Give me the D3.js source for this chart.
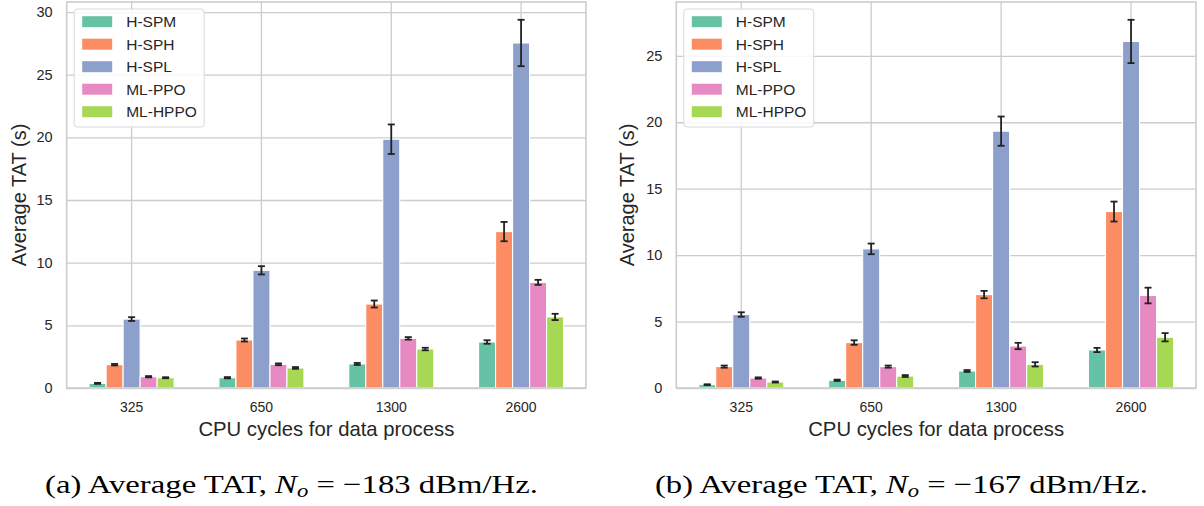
<!DOCTYPE html>
<html>
<head>
<meta charset="utf-8">
<script src="https://cdn.jsdelivr.net/npm/d3@7"></script>
<style>
  body { margin: 0; background: #fff; }
  svg { display: block; }
  text { font-family: "Liberation Sans", Arial, sans-serif; fill: #262626; }
  .caption { font-family: "Liberation Serif", "DejaVu Serif", serif; fill: #000; }
</style>
</head>
<body>
<div id="chart"></div>
<script>
// data
const categories = ["325", "650", "1300", "2600"];
const seriesNames = ["H-SPM", "H-SPH", "H-SPL", "ML-PPO", "ML-HPPO"];
const colors = ["#66c2a5", "#fc8d62", "#8da0cb", "#e78ac3", "#a6d854"];

// panel (a): No = -183 dBm/Hz
const tatA_HSPM = [0.37, 0.82, 1.92, 3.67];
const tatA_HSPH = [1.86, 3.83, 6.7, 12.48];
const tatA_HSPL = [5.5, 9.39, 19.85, 27.53];
const tatA_MLPPO = [0.9, 1.89, 3.96, 8.43];
const tatA_MLHPPO = [0.82, 1.6, 3.11, 5.67];
const errA_HSPM = [0.04, 0.05, 0.08, 0.14];
const errA_HSPH = [0.06, 0.12, 0.28, 0.77];
const errA_HSPL = [0.15, 0.33, 1.18, 1.85];
const errA_MLPPO = [0.05, 0.07, 0.1, 0.2];
const errA_MLHPPO = [0.04, 0.07, 0.1, 0.25];
const ticksA = [0, 5, 10, 15, 20, 25, 30];

// panel (b): No = -167 dBm/Hz
const tatB_HSPM = [0.25, 0.58, 1.28, 2.86];
const tatB_HSPH = [1.61, 3.42, 7.03, 13.28];
const tatB_HSPL = [5.53, 10.47, 19.33, 26.08];
const tatB_MLPPO = [0.75, 1.61, 3.16, 6.96];
const tatB_MLHPPO = [0.45, 0.9, 1.78, 3.82];
const errB_HSPM = [0.03, 0.05, 0.07, 0.16];
const errB_HSPH = [0.08, 0.17, 0.28, 0.75];
const errB_HSPL = [0.17, 0.4, 1.1, 1.63];
const errB_MLPPO = [0.05, 0.08, 0.24, 0.59];
const errB_MLHPPO = [0.04, 0.07, 0.16, 0.31];
const ticksB = [0, 5, 10, 15, 20, 25];

const W = 1204, H = 506;
const svg = d3.select("#chart").append("svg")
  .attr("width", W).attr("height", H)
  .attr("viewBox", `0 0 ${W} ${H}`);
svg.append("rect").attr("width", W).attr("height", H).attr("fill", "#fff");

function drawPanel(opts) {
  const { left, right, top, bottom, yMax, ticks, values, errors, yLabelX, caption } = opts;

  const xScale = d3.scaleBand().domain(categories).range([left, right]).padding(0);
  const groupW = xScale.bandwidth() * 0.655;
  const hueScale = d3.scaleBand().domain(seriesNames).range([-groupW / 2, groupW / 2]);
  const yScale = d3.scaleLinear().domain([0, yMax]).range([bottom, top]);

  const g = svg.append("g");

  // grid + ticks
  g.append("g")
    .attr("transform", `translate(${left},0)`)
    .call(d3.axisLeft(yScale).tickValues(ticks).tickSize(-(right - left)).tickFormat(d3.format("d")).tickPadding(14))
    .call((a) => a.select(".domain").remove())
    .call((a) => a.selectAll("line").attr("stroke", "#cccccc").attr("stroke-width", 1.3))
    .call((a) => a.selectAll("text").attr("font-size", "14.5px").attr("fill", "#262626"));

  g.append("g")
    .attr("transform", `translate(0,${bottom})`)
    .call(d3.axisBottom(xScale).tickSize(-(bottom - top)).tickPadding(14))
    .call((a) => a.select(".domain").remove())
    .call((a) => a.selectAll("line").attr("stroke", "#cccccc").attr("stroke-width", 1.3))
    .call((a) => a.selectAll("text").attr("font-size", "14px").attr("fill", "#262626"));

  // bars
  const rows = [];
  seriesNames.forEach((s, si) => {
    categories.forEach((c, ci) => {
      rows.push({ s, c, v: values[si][ci], e: errors[si][ci], color: colors[si] });
    });
  });

  g.append("g").selectAll("rect")
    .data(rows)
    .join("rect")
    .attr("x", (d) => xScale(d.c) + xScale.bandwidth() / 2 + hueScale(d.s))
    .attr("y", (d) => yScale(d.v))
    .attr("width", hueScale.bandwidth())
    .attr("height", (d) => yScale(0) - yScale(d.v))
    .attr("fill", (d) => d.color)
    .attr("stroke", "#fff")
    .attr("stroke-width", 1.1);

  // error bars
  const eb = g.append("g").selectAll("g")
    .data(rows)
    .join("g")
    .attr("transform", (d) => `translate(${xScale(d.c) + xScale.bandwidth() / 2 + hueScale(d.s) + hueScale.bandwidth() / 2},0)`)
    .attr("stroke", "#222")
    .attr("stroke-width", 1.8);
  eb.append("line")
    .attr("y1", (d) => yScale(d.v - d.e)).attr("y2", (d) => yScale(d.v + d.e));
  eb.append("line")
    .attr("x1", -3.5).attr("x2", 3.5)
    .attr("y1", (d) => yScale(d.v - d.e)).attr("y2", (d) => yScale(d.v - d.e));
  eb.append("line")
    .attr("x1", -3.5).attr("x2", 3.5)
    .attr("y1", (d) => yScale(d.v + d.e)).attr("y2", (d) => yScale(d.v + d.e));

  // frame
  g.append("rect")
    .attr("x", left).attr("y", top)
    .attr("width", right - left).attr("height", bottom - top)
    .attr("fill", "none").attr("stroke", "#cccccc").attr("stroke-width", 1.6);

  // axis labels
  g.append("text")
    .attr("x", (left + right) / 2).attr("y", 436)
    .attr("text-anchor", "middle").attr("font-size", "20.3px")
    .text("CPU cycles for data process");
  g.append("text")
    .attr("transform", `translate(${yLabelX},${(top + bottom) / 2}) rotate(-90)`)
    .attr("text-anchor", "middle").attr("font-size", "20px")
    .text("Average TAT (s)");

  // legend
  const lg = g.append("g").attr("transform", `translate(${left + 7.5},9)`);
  lg.append("rect")
    .attr("width", 130).attr("height", 118).attr("rx", 3)
    .attr("fill", "#fff").attr("fill-opacity", 0.85)
    .attr("stroke", "#d9d9d9").attr("stroke-width", 1);
  const item = lg.selectAll("g.item")
    .data(seriesNames)
    .join("g")
    .attr("class", "item")
    .attr("transform", (d, i) => `translate(0,${12.7 + i * 22.5})`);
  item.append("rect")
    .attr("x", 8).attr("y", -5.5).attr("width", 30).attr("height", 11)
    .attr("fill", (d, i) => colors[i]);
  item.append("text")
    .attr("x", 52).attr("y", 5.5)
    .attr("font-size", "15.5px")
    .text((d) => d);

  // caption
  const cap = svg.append("text")
    .attr("class", "caption")
    .attr("x", caption.x).attr("y", 493)
    .attr("font-size", "26px")
    .attr("textLength", 493).attr("lengthAdjust", "spacingAndGlyphs");
  cap.append("tspan").text(caption.pre);
  cap.append("tspan").attr("font-style", "italic").text("N");
  cap.append("tspan").attr("font-style", "italic").attr("font-size", "18px").attr("dy", 4).text("o");
  cap.append("tspan").attr("dy", -4).text(caption.post);
}

drawPanel({
  left: 66.7, right: 586, top: 2, bottom: 388, yMax: 30.8, ticks: ticksA,
  values: [tatA_HSPM, tatA_HSPH, tatA_HSPL, tatA_MLPPO, tatA_MLHPPO],
  errors: [errA_HSPM, errA_HSPH, errA_HSPL, errA_MLPPO, errA_MLHPPO],
  yLabelX: 26,
  caption: { x: 45, pre: "(a) Average TAT, ", post: " = \u2212183 dBm/Hz." }
});

drawPanel({
  left: 676.3, right: 1196, top: 2, bottom: 388, yMax: 29.05, ticks: ticksB,
  values: [tatB_HSPM, tatB_HSPH, tatB_HSPL, tatB_MLPPO, tatB_MLHPPO],
  errors: [errB_HSPM, errB_HSPH, errB_HSPL, errB_MLPPO, errB_MLHPPO],
  yLabelX: 634,
  caption: { x: 655, pre: "(b) Average TAT, ", post: " = \u2212167 dBm/Hz." }
});
</script>
</body>
</html>
